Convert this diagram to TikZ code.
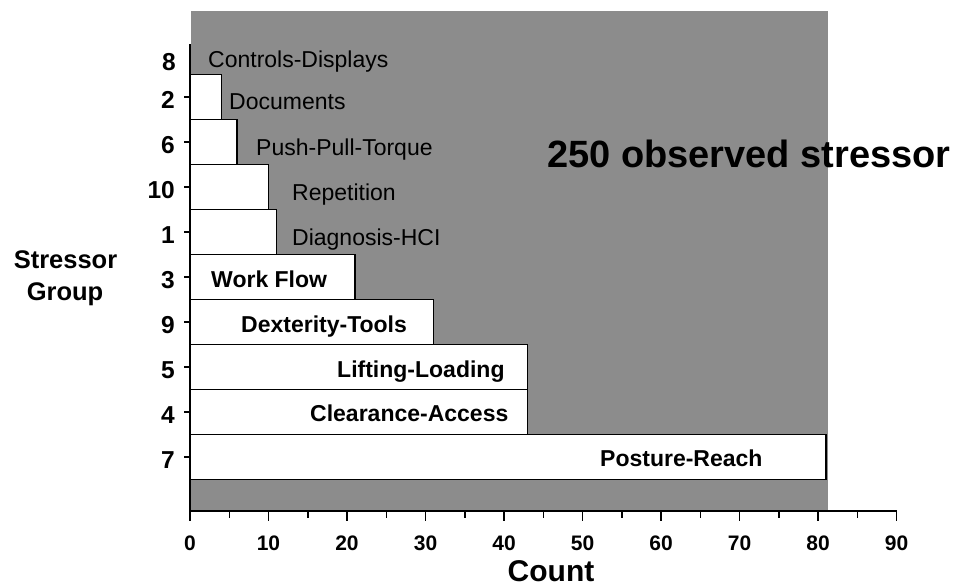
\documentclass[tikz,border=0pt]{standalone}
\usepackage{fontspec}
\setmainfont{Liberation Sans}
\definecolor{plotgray}{RGB}{140,140,140}
\begin{document}
\begin{tikzpicture}[x=1pt,y=-1pt,
  lab/.style={font=\fontsize{23}{23}\selectfont, inner sep=0pt, anchor=base west},
  blab/.style={font=\fontsize{23}{23}\selectfont\bfseries, inner sep=0pt, anchor=base west},
  cat/.style={font=\fontsize{24.5}{24.5}\selectfont\bfseries, inner sep=0pt, anchor=east},
  xlab/.style={font=\fontsize{21}{21}\selectfont\bfseries, inner sep=0pt, anchor=base},
  ttl/.style={font=\fontsize{25.5}{25.5}\selectfont\bfseries, inner sep=0pt, anchor=base},
  bar/.style={draw=black, fill=white, line width=1.5pt},
  axis/.style={draw=black, line width=2pt},
  tick/.style={draw=black, line width=1.5pt}]
\useasboundingbox (0,0) rectangle (967,586);
% plot area
\fill[plotgray] (191,11) rectangle (828,511);
% bars
\foreach \k/\c in {1/4,2/6,3/10,4/11,5/21,6/31,7/43,8/43,9/81}
  \draw[bar] (190,29.5+45*\k) rectangle (190+7.85*\c,74.5+45*\k);
% axes
\draw[axis] (190,44) -- (190,511) -- (897,511);
\foreach \k in {1,...,9}
  \draw[tick] (184,52+45*\k) -- (190,52+45*\k);
\foreach \i in {0,...,9}
  \draw[tick] (190+78.5*\i,511) -- ++(0,10);
\foreach \i in {0,...,8}
  \draw[tick] (190+78.5*\i+39.25,511) -- ++(0,7);
% x tick labels
\foreach \i in {0,...,9}{
  \pgfmathtruncatemacro{\v}{10*\i}
  \node[xlab] (x\i) at (190+78.5*\i,550) {\v};
}
% category labels
\node[cat] (c0) at (176,62) {8};
\foreach \k/\t in {1/2,2/6,3/10,4/1,5/3,6/9,7/5,8/4,9/7}
  \node[cat] (c\k) at (175,55+45*\k) {\t};
% stressor names
\node[lab] (n8) at (208,67) {Controls-Displays};
\node[lab] (n2) at (229,110) {Documents};
\node[lab] (n6) at (256,155) {Push-Pull-Torque};
\node[lab] (n10) at (292,200) {Repetition};
\node[lab] (n1) at (292,245) {Diagnosis-HCI};
\node[blab] (n3) at (211,287) {Work Flow};
\node[blab] (n9) at (241,332) {Dexterity-Tools};
\node[blab] (n5) at (337,377) {Lifting-Loading};
\node[blab] (n4) at (310,421) {Clearance-Access};
\node[blab] (n7) at (600,466) {Posture-Reach};
% titles
\node[ttl] (stressor) at (65.5,268) {Stressor};
\node[ttl] (group) at (65,300) {Group};
\node[font=\fontsize{30}{30}\selectfont\bfseries, inner sep=0pt, anchor=base] (count) at (551,581) {Count};
\node[font=\fontsize{38}{38}\selectfont\bfseries, inner sep=0pt, anchor=base west] (total) at (547,167) {250 observed stressor};
\end{tikzpicture}
\end{document}
